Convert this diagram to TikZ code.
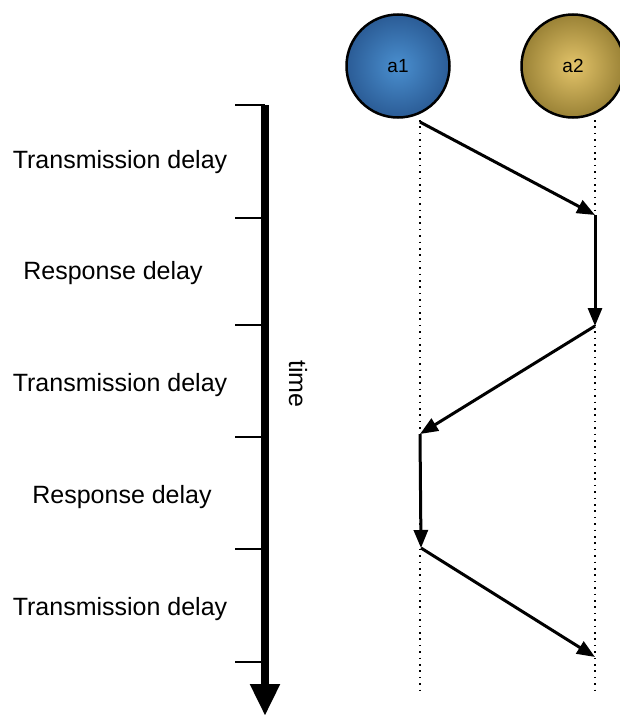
\documentclass[tikz,border=0pt]{standalone}
\usepackage{fontspec}
\setmainfont{Liberation Sans}
\usetikzlibrary{arrows.meta}

\definecolor{agentblue}{HTML}{4A8FCF}
\definecolor{agentbluedark}{HTML}{2B5C96}
\definecolor{agentgold}{HTML}{E3C46A}
\definecolor{agentgolddark}{HTML}{9A8236}

\begin{document}
\begin{tikzpicture}[x=1pt,y=-1pt,
    msg/.style={line width=3pt,-{Triangle[length=18pt,width=14pt]}},
    life/.style={line width=1.6pt,dash pattern=on 1.6pt off 4.8pt},
    agent/.style={circle,draw=black,line width=2.5pt,minimum size=103pt,inner sep=0pt,
                  shading=radial,font=\fontsize{19}{21}\selectfont},
    delay/.style={font=\fontsize{25}{28}\selectfont},
    tickmark/.style={line width=1.5pt}]
    \useasboundingbox (0,0) rectangle (619,715);

    % agents and their lifelines
    \node[agent,inner color=agentblue,outer color=agentbluedark] (a1) at (398,66) {a1};
    \node[agent,inner color=agentgold,outer color=agentgolddark] (a2) at (573,66) {a2};
    \coordinate (l1top) at (420,120);
    \coordinate (l1bot) at (420,692);
    \coordinate (l2top) at (595,120);
    \coordinate (l2bot) at (595,692);
    \draw[life] (l1top) -- (l1bot);
    \draw[life] (l2top) -- (l2bot);

    % message events
    \coordinate (e1) at (420,122);
    \coordinate (e2) at (595,215);
    \coordinate (e3) at (595,326);
    \coordinate (e4) at (420,434);
    \coordinate (e5) at (421,548);
    \coordinate (e6) at (595,657);
    \draw[msg] (e1) -- (e2);
    \draw[msg] (e2) -- (e3);
    \draw[msg] (e3) -- (e4);
    \draw[msg] (e4) -- (e5);
    \draw[msg] (e5) -- (e6);

    % time axis with ticks
    \coordinate (t0) at (265,105);
    \coordinate (tend) at (265,716);
    \draw[line width=8pt,-{Triangle[length=32pt,width=28pt]}] (t0) -- (tend);
    \foreach \y/\n in {105/0,218/1,325/2,437/3,549/4,662/5}
        \draw[tickmark] (235,\y) coordinate (k\n) -- (265,\y);
    \node[delay,rotate=-90] (time) at (298,384) {time};

    % delay labels
    \node[delay] (d1) at (120,162) {Transmission delay};
    \node[delay] (d2) at (113,273) {Response delay};
    \node[delay] (d3) at (120,385) {Transmission delay};
    \node[delay] (d4) at (122,497) {Response delay};
    \node[delay] (d5) at (120,609) {Transmission delay};
\end{tikzpicture}
\end{document}
